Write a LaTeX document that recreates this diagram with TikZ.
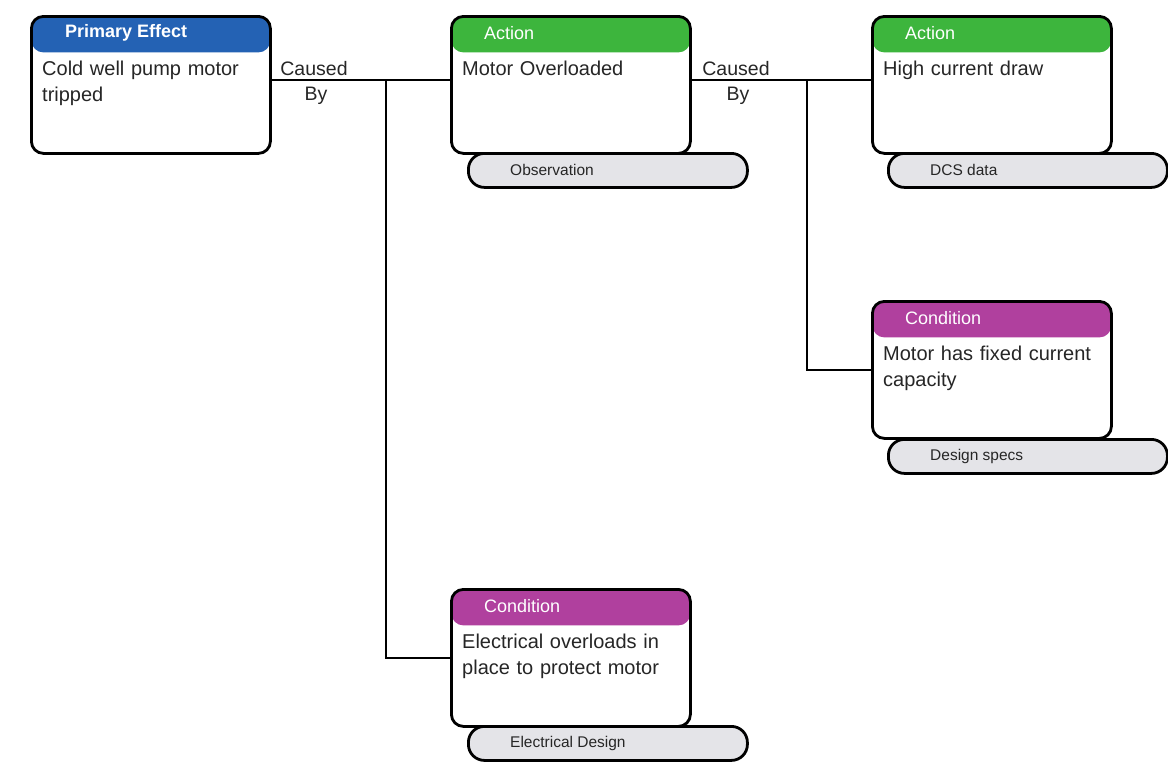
\documentclass[tikz,border=0pt]{standalone}
\usepackage{fontspec}
\setmainfont{Liberation Sans}
\definecolor{hblue}{HTML}{2462B4}
\definecolor{hgreen}{HTML}{3DB53D}
\definecolor{hpurple}{HTML}{B0409E}
\definecolor{tagfill}{HTML}{E4E4E8}
\definecolor{txt}{HTML}{262626}
\tikzset{
  card/.style={draw=black, line width=2.8pt, rounded corners=12pt, fill=white,
    minimum width=239pt, minimum height=137pt, anchor=north west, inner sep=0pt,
    path picture={\fill[#1] (path picture bounding box.north west) rectangle ([yshift=-36pt]path picture bounding box.north east);}},
  tag/.style={draw=black, line width=2.8pt, rounded corners=16pt, fill=tagfill,
    minimum width=279pt, minimum height=34pt, anchor=north west, inner sep=0pt},
  hdrtext/.style={anchor=west, text=white, font=\fontsize{18}{20}\selectfont, inner sep=0pt},
  bodytext/.style={anchor=north west, text=txt, font=\fontsize{20}{26}\selectfont, align=left, text width=228pt, inner sep=0pt},
  tagtext/.style={anchor=west, text=txt, font=\fontsize{15.5}{17}\selectfont, inner sep=0pt},
  lbl/.style={text=txt, font=\fontsize{19.5}{21}\selectfont, inner sep=0pt},
  conn/.style={draw=black, line width=2.8pt},
}
\begin{document}
\begin{tikzpicture}[x=1pt,y=-1pt]
\useasboundingbox[fill=white] (0,0) rectangle (1168,761);

% tags (drawn first, behind cards)
\node[tag] (t1) at (467,152) {};
\node[tagtext] (t1l) at ([xshift=43pt]t1.west) {Observation};
\node[tag] (t2) at (887,152) {};
\node[tagtext] (t2l) at ([xshift=43pt]t2.west) {DCS data};
\node[tag] (t3) at (887,438) {};
\node[tagtext] (t3l) at ([xshift=43pt]t3.west) {Design specs};
\node[tag] (t4) at (467,725) {};
\node[tagtext] (t4l) at ([xshift=43pt]t4.west) {Electrical Design};

% cards
\node[card=hblue] (pe) at (30,15) {};
\node[hdrtext, font=\fontsize{18}{20}\bfseries\selectfont] (peh) at ([xshift=35pt,yshift=-18pt]pe.north west) {Primary Effect};
\node[bodytext] (peb) at ([xshift=12pt,yshift=-46pt]pe.north west) {Cold well pump motor tripped};

\node[card=hgreen] (a1) at (450,15) {};
\node[hdrtext] (a1h) at ([xshift=34pt,yshift=-18pt]a1.north west) {Action};
\node[bodytext] (a1b) at ([xshift=12pt,yshift=-46pt]a1.north west) {Motor Overloaded};

\node[card=hgreen] (a2) at (871,15) {};
\node[hdrtext] (a2h) at ([xshift=34pt,yshift=-18pt]a2.north west) {Action};
\node[bodytext] (a2b) at ([xshift=12pt,yshift=-46pt]a2.north west) {High current draw};

\node[card=hpurple] (c1) at (871,300) {};
\node[hdrtext] (c1h) at ([xshift=34pt,yshift=-18pt]c1.north west) {Condition};
\node[bodytext] (c1b) at ([xshift=12pt,yshift=-46pt]c1.north west) {Motor has fixed current capacity};

\node[card=hpurple] (c2) at (450,588) {};
\node[hdrtext] (c2h) at ([xshift=34pt,yshift=-18pt]c2.north west) {Condition};
\node[bodytext] (c2b) at ([xshift=12pt,yshift=-46pt]c2.north west) {Electrical overloads in place to protect motor};

% connectors
\coordinate (j1) at (386,80);
\coordinate (j2) at (807,80);
\draw[conn] (pe.east |- j1) -- (a1.west |- j1);
\draw[conn] (j1) -- (j1 |- c2.west) -- (c2.west);
\draw[conn] (a1.east |- j2) -- (a2.west |- j2);
\draw[conn] (j2) -- (j2 |- c1.west) -- (c1.west);

% labels
\node[lbl] (cb1a) at (314,69) {Caused};
\node[lbl] (cb1b) at (316,96) {By};
\node[lbl] (cb2a) at (736,69) {Caused};
\node[lbl] (cb2b) at (738,96) {By};
\end{tikzpicture}
\end{document}
